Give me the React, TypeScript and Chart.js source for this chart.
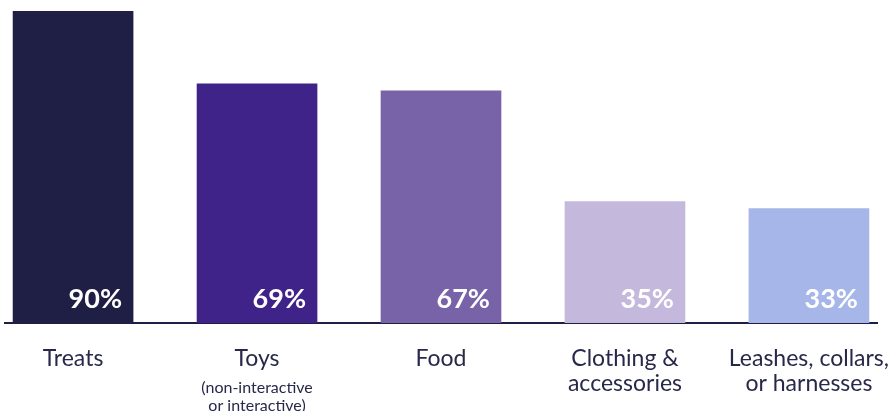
import React, { useEffect, useRef } from "react";
import { Chart, registerables } from "chart.js";

Chart.register(...registerables);

const categories: string[][] = [
  ["Treats"],
  ["Toys"],
  ["Food"],
  ["Clothing &", "accessories"],
  ["Leashes, collars,", "or harnesses"],
];
const subLabels: string[][] = [[], ["(non-interactive", "or interactive)"], [], [], []];
const values: number[] = [90, 69, 67, 35, 33];
const colors: string[] = ["#1F1E44", "#3F2388", "#7963A8", "#C4B9DC", "#A6B6E8"];

const FONT = "Lato, 'Noto Sans', sans-serif";
const TEXT = "#28284A";

const labelsPlugin = {
  id: "customLabels",
  afterDatasetsDraw(chart: any) {
    const ctx = chart.ctx;
    const meta = chart.getDatasetMeta(0);
    const xScale = chart.scales.x;
    const area = chart.chartArea;
    ctx.save();
    ctx.fillStyle = "#FFFFFF";
    ctx.font = `bold 27px ${FONT}`;
    ctx.textAlign = "right";
    ctx.textBaseline = "alphabetic";
    meta.data.forEach((bar: any, i: number) => {
      const props = bar.getProps(["x", "width", "base"], true);
      ctx.fillText(`${values[i]}%`, props.x + props.width / 2 - 11, area.bottom - 15);
    });
    ctx.fillStyle = TEXT;
    ctx.textAlign = "center";
    ctx.textBaseline = "middle";
    categories.forEach((lines, i) => {
      const x = xScale.getPixelForValue(i);
      ctx.font = `23px ${FONT}`;
      lines.forEach((line, j) => {
        ctx.fillText(line, x, area.bottom + 36 + j * 25);
      });
      ctx.font = `16px ${FONT}`;
      subLabels[i].forEach((line, j) => {
        ctx.fillText(line, x, area.bottom + 65 + j * 18);
      });
    });
    ctx.restore();
  },
};

export default function App() {
  const ref = useRef<HTMLCanvasElement | null>(null);
  useEffect(() => {
    document.body.style.margin = "0";
    if (!ref.current) return;
    const chart = new Chart(ref.current, {
      type: "bar",
      data: {
        datasets: [
          {
            data: values.map((v, i) => ({ x: i, y: v })),
            backgroundColor: colors,
            borderWidth: 0,
            barThickness: 120,
          },
        ],
      },
      options: {
        animation: false,
        responsive: false,
        maintainAspectRatio: false,
        layout: { padding: { top: 11, left: 5, right: 14, bottom: 88 } },
        plugins: { legend: { display: false }, tooltip: { enabled: false } },
        scales: {
          x: {
            type: "linear",
            offset: false,
            min: -0.37,
            max: 4.37,
            grid: { display: false, drawTicks: false, offset: false },
            border: { display: true, color: "#1F1E44", width: 2 },
            ticks: { display: false },
          },
          y: {
            min: 0,
            max: 90,
            display: false,
          },
        },
      },
      plugins: [labelsPlugin],
    });
    return () => chart.destroy();
  }, []);
  return (
    <div style={{ position: "absolute", left: 0, top: 0, width: 891, height: 411 }}>
      <canvas ref={ref} width={891} height={411} style={{ width: 891, height: 411 }} />
    </div>
  );
}
